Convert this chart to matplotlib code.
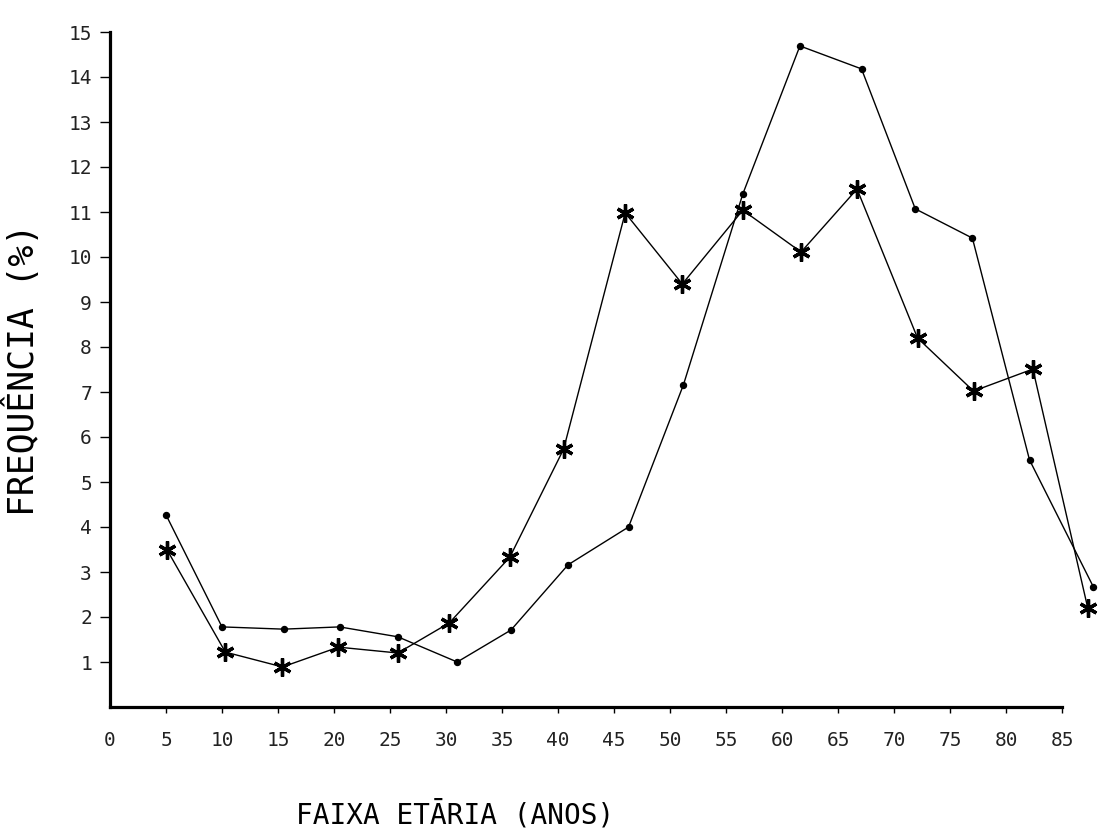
import matplotlib
matplotlib.use("Agg")
import matplotlib.pyplot as plt

# --- data ---
x_ticks = [0, 5, 10, 15, 20, 25, 30, 35, 40, 45, 50, 55, 60, 65, 70, 75, 80, 85]
y_ticks = [1, 2, 3, 4, 5, 6, 7, 8, 9, 10, 11, 12, 13, 14, 15]

# series drawn with small dots (x positions as plotted in the drawing)
dot_x = [5.0, 10.0, 15.5, 20.5, 25.7, 31.0, 35.8, 40.9, 46.3, 51.2,
         56.5, 61.6, 67.1, 71.9, 77.0, 82.1, 87.8]
dot_y = [4.27, 1.78, 1.73, 1.78, 1.56, 1.00, 1.71, 3.16, 4.00, 7.16,
         11.40, 14.69, 14.18, 11.07, 10.42, 5.49, 2.67]

# series drawn with asterisks
star_x = [5.1, 10.3, 15.4, 20.4, 25.7, 30.3, 35.7, 40.5, 46.0, 51.1,
          56.5, 61.7, 66.7, 72.1, 77.1, 82.4, 87.3]
star_y = [3.49, 1.22, 0.89, 1.33, 1.20, 1.87, 3.33, 5.73, 10.98, 9.40,
          11.04, 10.11, 11.51, 8.20, 7.02, 7.51, 2.20]

xlabel = "FAIXA ETĀRIA (ANOS)"
ylabel = "FREQUÊNCIA (%)"

plt.rcParams['font.family'] = ['DejaVu Sans Mono', 'DejaVu Sans']

fig = plt.figure(figsize=(10.99, 8.31), dpi=100)
ax = fig.add_axes([110 / 1099, 124 / 831, 952 / 1099, 675 / 831])

ax.plot(dot_x, dot_y, color='black', lw=1.0, marker='o', ms=4.3,
        clip_on=False, zorder=3)
ax.plot(star_x, star_y, color='black', lw=1.0, marker=(6, 2, 0), ms=13,
        mew=2.4, clip_on=False, zorder=3)

ax.set_xlim(0, 85)
ax.set_ylim(0, 15)

for s in ['top', 'right']:
    ax.spines[s].set_visible(False)
for s in ['left', 'bottom']:
    ax.spines[s].set_linewidth(2.3)
    ax.spines[s].set_color('black')

ax.set_xticks(x_ticks)
ax.set_xticklabels([str(v) for v in x_ticks])
ax.set_yticks(y_ticks)
ax.set_yticklabels([str(v) for v in y_ticks])

ax.tick_params(axis='x', direction='out', length=4, width=1.0, pad=13,
               labelsize=14, colors='black', labelcolor='#222222')
ax.tick_params(axis='y', direction='out', length=7, width=1.0, pad=6,
               labelsize=14, colors='black', labelcolor='#222222')
ax.xaxis.get_major_ticks()[0].tick1line.set_visible(False)

ax.set_xlabel(xlabel, fontsize=20)
ax.xaxis.set_label_coords(0.363, -0.16)
ax.xaxis.label.set_va('center')
ax.set_ylabel(ylabel, fontsize=25)
ax.yaxis.set_label_coords(-0.092, 0.50)
ax.yaxis.label.set_va('center')

fig.savefig("out.png", dpi=100, facecolor='white')
